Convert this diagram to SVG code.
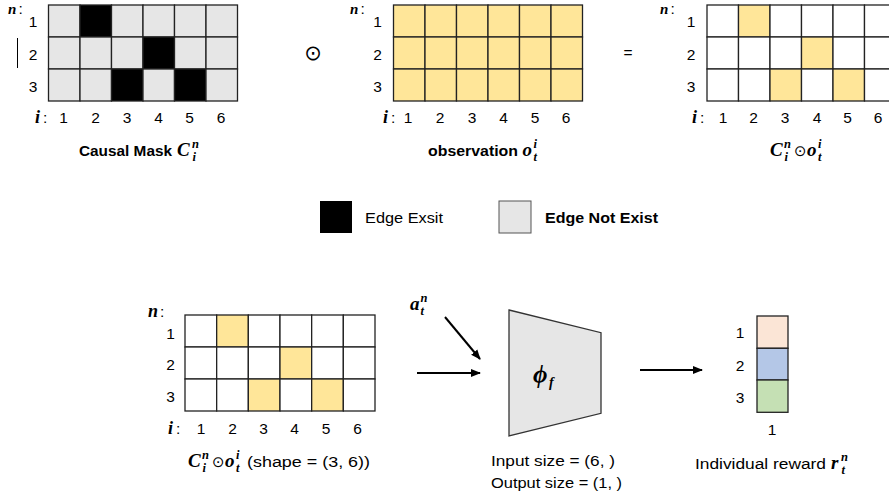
<svg xmlns="http://www.w3.org/2000/svg" width="889" height="499" viewBox="0 0 889 499">
<style>
.t{font-family:"Liberation Sans",Arial,sans-serif;font-size:15.5px;fill:#000}
.b{font-weight:bold}
.m{font-family:"Liberation Serif","DejaVu Serif",serif;font-weight:bold;font-style:italic;fill:#000}
.o{font-family:"DejaVu Sans",sans-serif;fill:#000}
.c{text-anchor:middle}
.g{fill:#e6e6e6;stroke:#222;stroke-width:1.3}
.k{fill:#000;stroke:#222;stroke-width:1.3}
.y{fill:#ffe699;stroke:#222;stroke-width:1.3}
.w{fill:#fff;stroke:#222;stroke-width:1.3}
.ln{stroke:#000;stroke-width:2;fill:none}
</style>
<defs>
<marker id="ah" viewBox="0 0 10 10" refX="9" refY="5" markerWidth="5" markerHeight="5" orient="auto"><path d="M0,1 L10,5 L0,9 z" fill="#000"/></marker>
</defs>

<g id="causal-mask">
<g transform="translate(48.5,5)">
<rect class="g" x="0" y="0" width="31.5" height="32"/><rect class="k" x="31.5" y="0" width="31.5" height="32"/><rect class="g" x="63" y="0" width="31.5" height="32"/><rect class="g" x="94.5" y="0" width="31.5" height="32"/><rect class="g" x="126" y="0" width="31.5" height="32"/><rect class="g" x="157.5" y="0" width="31.5" height="32"/>
<rect class="g" x="0" y="32" width="31.5" height="32"/><rect class="g" x="31.5" y="32" width="31.5" height="32"/><rect class="g" x="63" y="32" width="31.5" height="32"/><rect class="k" x="94.5" y="32" width="31.5" height="32"/><rect class="g" x="126" y="32" width="31.5" height="32"/><rect class="g" x="157.5" y="32" width="31.5" height="32"/>
<rect class="g" x="0" y="64" width="31.5" height="32"/><rect class="g" x="31.5" y="64" width="31.5" height="32"/><rect class="k" x="63" y="64" width="31.5" height="32"/><rect class="g" x="94.5" y="64" width="31.5" height="32"/><rect class="k" x="126" y="64" width="31.5" height="32"/><rect class="g" x="157.5" y="64" width="31.5" height="32"/>
</g>
<text class="m" x="8" y="13.5" font-size="15">n</text><text class="t" x="18.5" y="13.5" font-size="14">:</text>
<text class="t c" x="33" y="27">1</text><text class="t c" x="33" y="59.5">2</text><text class="t c" x="33" y="92">3</text>
<line x1="17.5" y1="38" x2="17.5" y2="68" stroke="#000" stroke-width="1"/>
<text class="m" x="35" y="123" font-size="18">i</text><text class="t" x="43" y="123">:</text>
<text class="t c" x="63.5" y="123">1</text><text class="t c" x="95.5" y="123">2</text><text class="t c" x="127" y="123">3</text><text class="t c" x="158.5" y="123">4</text><text class="t c" x="189.5" y="123">5</text><text class="t c" x="221" y="123">6</text>
<text class="t b" x="79" y="156" font-size="15.5" textLength="93" lengthAdjust="spacingAndGlyphs">Causal Mask</text>
<text class="m" x="177" y="156" font-size="19">C</text><text class="m" x="192" y="148" font-size="12.5">n</text><text class="m" x="192.5" y="160.5" font-size="12.5">i</text>
</g>

<text id="odot-op" class="o c" x="313" y="60" font-size="21">⊙</text>

<g id="observation">
<g transform="translate(393.5,5)">
<rect class="y" x="0" y="0" width="31.5" height="32"/><rect class="y" x="31.5" y="0" width="31.5" height="32"/><rect class="y" x="63" y="0" width="31.5" height="32"/><rect class="y" x="94.5" y="0" width="31.5" height="32"/><rect class="y" x="126" y="0" width="31.5" height="32"/><rect class="y" x="157.5" y="0" width="31.5" height="32"/>
<rect class="y" x="0" y="32" width="31.5" height="32"/><rect class="y" x="31.5" y="32" width="31.5" height="32"/><rect class="y" x="63" y="32" width="31.5" height="32"/><rect class="y" x="94.5" y="32" width="31.5" height="32"/><rect class="y" x="126" y="32" width="31.5" height="32"/><rect class="y" x="157.5" y="32" width="31.5" height="32"/>
<rect class="y" x="0" y="64" width="31.5" height="32"/><rect class="y" x="31.5" y="64" width="31.5" height="32"/><rect class="y" x="63" y="64" width="31.5" height="32"/><rect class="y" x="94.5" y="64" width="31.5" height="32"/><rect class="y" x="126" y="64" width="31.5" height="32"/><rect class="y" x="157.5" y="64" width="31.5" height="32"/>
</g>
<text class="m" x="350" y="13.5" font-size="15">n</text><text class="t" x="360.5" y="13.5" font-size="14">:</text>
<text class="t c" x="377.5" y="27">1</text><text class="t c" x="377.5" y="59.5">2</text><text class="t c" x="377.5" y="92">3</text>
<text class="m" x="383" y="123" font-size="18">i</text><text class="t" x="391" y="123">:</text>
<text class="t c" x="408" y="123">1</text><text class="t c" x="440" y="123">2</text><text class="t c" x="472" y="123">3</text><text class="t c" x="503.5" y="123">4</text><text class="t c" x="535" y="123">5</text><text class="t c" x="566" y="123">6</text>
<text class="t b" x="428" y="156" font-size="15.5" textLength="90" lengthAdjust="spacingAndGlyphs">observation</text>
<text class="m" x="522.5" y="156" font-size="19">o</text><text class="m" x="533.5" y="148" font-size="12.5">i</text><text class="m" x="533.5" y="160.5" font-size="12.5">t</text>
</g>

<text id="eq-op" class="t c" x="628" y="58" font-size="15">=</text>

<g id="masked-obs">
<g transform="translate(707,5)">
<rect class="w" x="0" y="0" width="31.5" height="32"/><rect class="y" x="31.5" y="0" width="31.5" height="32"/><rect class="w" x="63" y="0" width="31.5" height="32"/><rect class="w" x="94.5" y="0" width="31.5" height="32"/><rect class="w" x="126" y="0" width="31.5" height="32"/><rect class="w" x="157.5" y="0" width="31.5" height="32"/>
<rect class="w" x="0" y="32" width="31.5" height="32"/><rect class="w" x="31.5" y="32" width="31.5" height="32"/><rect class="w" x="63" y="32" width="31.5" height="32"/><rect class="y" x="94.5" y="32" width="31.5" height="32"/><rect class="w" x="126" y="32" width="31.5" height="32"/><rect class="w" x="157.5" y="32" width="31.5" height="32"/>
<rect class="w" x="0" y="64" width="31.5" height="32"/><rect class="w" x="31.5" y="64" width="31.5" height="32"/><rect class="y" x="63" y="64" width="31.5" height="32"/><rect class="w" x="94.5" y="64" width="31.5" height="32"/><rect class="y" x="126" y="64" width="31.5" height="32"/><rect class="w" x="157.5" y="64" width="31.5" height="32"/>
</g>
<text class="m" x="660" y="13.5" font-size="15">n</text><text class="t" x="670.5" y="13.5" font-size="14">:</text>
<text class="t c" x="691" y="27">1</text><text class="t c" x="691" y="59.5">2</text><text class="t c" x="691" y="92">3</text>
<text class="m" x="692" y="123" font-size="18">i</text><text class="t" x="700" y="123">:</text>
<text class="t c" x="723" y="123">1</text><text class="t c" x="753.5" y="123">2</text><text class="t c" x="785" y="123">3</text><text class="t c" x="817" y="123">4</text><text class="t c" x="847.5" y="123">5</text><text class="t c" x="878" y="123">6</text>
<text class="m" x="770" y="156" font-size="19">C</text><text class="m" x="784" y="148" font-size="12.5">n</text><text class="m" x="784.5" y="160.5" font-size="12.5">i</text>
<text class="o" x="794" y="156" font-size="15">⊙</text>
<text class="m" x="807" y="156" font-size="19">o</text><text class="m" x="818" y="148" font-size="12.5">i</text><text class="m" x="818" y="160.5" font-size="12.5">t</text>
</g>

<g id="legend-exist">
<rect x="320" y="201" width="32" height="32" fill="#000"/>
<text class="t" x="365" y="223" font-size="15.5" textLength="78" lengthAdjust="spacingAndGlyphs">Edge Exsit</text>
</g>
<g id="legend-not-exist">
<rect x="499" y="201" width="32" height="32" fill="#e6e6e6" stroke="#555" stroke-width="1"/>
<text class="t b" x="545" y="223" font-size="15.5" textLength="113" lengthAdjust="spacingAndGlyphs">Edge Not Exist</text>
</g>

<g id="input-matrix">
<g transform="translate(185,315)">
<rect class="w" x="0" y="0" width="31.67" height="32"/><rect class="y" x="31.67" y="0" width="31.67" height="32"/><rect class="w" x="63.33" y="0" width="31.67" height="32"/><rect class="w" x="95" y="0" width="31.67" height="32"/><rect class="w" x="126.67" y="0" width="31.67" height="32"/><rect class="w" x="158.33" y="0" width="31.67" height="32"/>
<rect class="w" x="0" y="32" width="31.67" height="32"/><rect class="w" x="31.67" y="32" width="31.67" height="32"/><rect class="w" x="63.33" y="32" width="31.67" height="32"/><rect class="y" x="95" y="32" width="31.67" height="32"/><rect class="w" x="126.67" y="32" width="31.67" height="32"/><rect class="w" x="158.33" y="32" width="31.67" height="32"/>
<rect class="w" x="0" y="64" width="31.67" height="32"/><rect class="w" x="31.67" y="64" width="31.67" height="32"/><rect class="y" x="63.33" y="64" width="31.67" height="32"/><rect class="w" x="95" y="64" width="31.67" height="32"/><rect class="y" x="126.67" y="64" width="31.67" height="32"/><rect class="w" x="158.33" y="64" width="31.67" height="32"/>
</g>
<text class="m" x="148" y="317" font-size="18">n</text><text class="t" x="160" y="317">:</text>
<text class="t c" x="170.5" y="338.5">1</text><text class="t c" x="170.5" y="370">2</text><text class="t c" x="170.5" y="402">3</text>
<text class="m" x="168" y="434" font-size="18">i</text><text class="t" x="176" y="434">:</text>
<text class="t c" x="201" y="434">1</text><text class="t c" x="232.5" y="434">2</text><text class="t c" x="263.5" y="434">3</text><text class="t c" x="294.5" y="434">4</text><text class="t c" x="326" y="434">5</text><text class="t c" x="357.5" y="434">6</text>
<text class="m" x="188" y="467" font-size="19">C</text><text class="m" x="202" y="459" font-size="12.5">n</text><text class="m" x="202.5" y="471.5" font-size="12.5">i</text>
<text class="o" x="212" y="467" font-size="15">⊙</text>
<text class="m" x="225" y="467" font-size="19">o</text><text class="m" x="236" y="459" font-size="12.5">i</text><text class="m" x="236" y="471.5" font-size="12.5">t</text>
<text class="t" x="247" y="467" font-size="15.5" textLength="123" lengthAdjust="spacingAndGlyphs">(shape = (3, 6))</text>
</g>

<g id="action-label">
<text class="m" x="410" y="310" font-size="19">a</text><text class="m" x="420.5" y="302" font-size="12.5">n</text><text class="m" x="420.5" y="314.5" font-size="12.5">t</text>
</g>

<g id="phi-network">
<polygon points="509,310 601,332.7 601,413.3 509,436" fill="#e6e6e6" stroke="#333" stroke-width="1.3"/>
<text class="m" x="533" y="383" font-size="25">ϕ</text><text class="m" x="549" y="387" font-size="14">f</text>
<text class="t" x="491" y="466" textLength="124" lengthAdjust="spacingAndGlyphs">Input size = (6, )</text>
<text class="t" x="491" y="488" textLength="131" lengthAdjust="spacingAndGlyphs">Output size = (1, )</text>
</g>

<g id="reward">
<rect x="757" y="316" width="31" height="32.3" fill="#fbe5d6" stroke="#222" stroke-width="1.3"/>
<rect x="757" y="348.3" width="31" height="31.7" fill="#b4c7e7" stroke="#222" stroke-width="1.3"/>
<rect x="757" y="380" width="31" height="32.3" fill="#c5e0b4" stroke="#222" stroke-width="1.3"/>
<text class="t c" x="740" y="338">1</text><text class="t c" x="740" y="371">2</text><text class="t c" x="740" y="403">3</text>
<text class="t c" x="772" y="435">1</text>
<text class="t" x="695" y="469" textLength="131" lengthAdjust="spacingAndGlyphs">Individual reward</text>
<text class="m" x="831" y="469" font-size="19">r</text><text class="m" x="841" y="461" font-size="12.5">n</text><text class="m" x="841.5" y="473.5" font-size="12.5">t</text>
</g>

<g id="connectors">
<line class="ln" x1="417" y1="373" x2="480" y2="373" marker-end="url(#ah)"/>
<line class="ln" x1="445" y1="317" x2="480" y2="359" marker-end="url(#ah)"/>
<line class="ln" x1="640" y1="370" x2="702" y2="370" marker-end="url(#ah)"/>
</g>
</svg>
